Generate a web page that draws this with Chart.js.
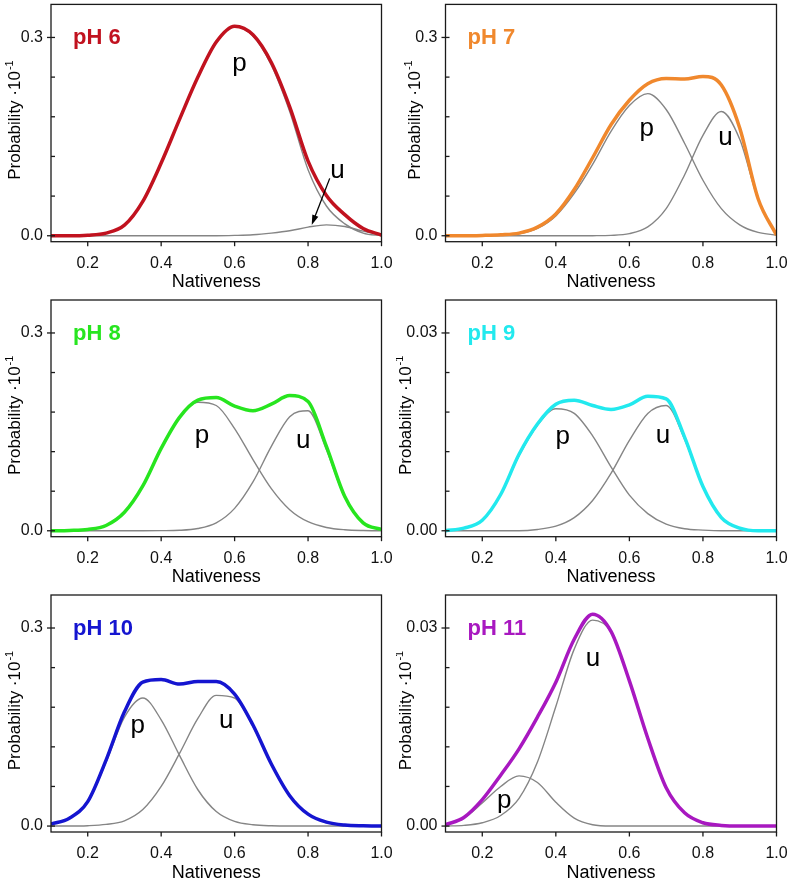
<!DOCTYPE html>
<html><head><meta charset="utf-8">
<script src="https://cdn.jsdelivr.net/npm/chart.js@4.4.1/dist/chart.umd.min.js"></script>
<style>
html,body{margin:0;padding:0;background:#fff;width:792px;height:882px;overflow:hidden;}
canvas{position:absolute;}
</style></head><body>
<canvas id="c0" width="396" height="292" style="left:0px;top:0px;width:396px;height:292px"></canvas>
<canvas id="c1" width="396" height="292" style="left:396px;top:0px;width:396px;height:292px"></canvas>
<canvas id="c2" width="396" height="292" style="left:0px;top:295px;width:396px;height:292px"></canvas>
<canvas id="c3" width="396" height="292" style="left:396px;top:295px;width:396px;height:292px"></canvas>
<canvas id="c4" width="396" height="292" style="left:0px;top:590px;width:396px;height:292px"></canvas>
<canvas id="c5" width="396" height="292" style="left:396px;top:590px;width:396px;height:292px"></canvas>
<script>
// ---------- data ----------
const nativeness = [0.10,0.15,0.20,0.25,0.30,0.35,0.40,0.45,0.50,0.55,0.60,0.65,0.70,0.75,0.80,0.85,0.90,0.95,1.00];
const xTickValues = [0.2,0.4,0.6,0.8,1.0];
const yTicksLarge = [0,0.06,0.12,0.18,0.24,0.30];
const yTicksSmall = [0,0.006,0.012,0.018,0.024,0.030];

const pH6_total = [0,0,0.0008,0.004,0.016,0.052,0.110,0.176,0.240,0.293,0.317,0.304,0.262,0.195,0.113,0.061,0.032,0.011,0.001];
const pH6_p     = [0,0,0.0008,0.004,0.016,0.052,0.110,0.176,0.240,0.293,0.316,0.302,0.258,0.188,0.100,0.045,0.018,0.004,0];
const pH6_u     = [0,0,0,0,0,0,0,0,0,0,0.0005,0.0015,0.004,0.0075,0.013,0.0165,0.014,0.007,0.001];

const pH7_total = [0,0,0.0005,0.0015,0.004,0.013,0.033,0.070,0.118,0.168,0.205,0.230,0.238,0.237,0.241,0.228,0.163,0.056,0.001];
const pH7_p     = [0,0,0.0003,0.001,0.003,0.011,0.030,0.064,0.108,0.158,0.197,0.215,0.191,0.140,0.084,0.041,0.0165,0.005,0.001];
const pH7_u     = [0,0,0,0,0,0,0,0,0.0001,0.0006,0.0033,0.0134,0.041,0.092,0.152,0.188,0.146,0.055,0.002];

const pH8_total = [0,0.0005,0.002,0.008,0.028,0.068,0.125,0.172,0.198,0.202,0.189,0.182,0.192,0.205,0.196,0.128,0.052,0.012,0.002];
const pH8_p     = [0,0.0005,0.002,0.008,0.028,0.068,0.125,0.171,0.195,0.190,0.155,0.108,0.064,0.032,0.0137,0.005,0.0015,0.0003,0];
const pH8_u     = [0,0,0,0,0,0,0.0002,0.0007,0.0034,0.012,0.034,0.074,0.128,0.173,0.182,0.123,0.050,0.012,0.002];

const pH9_total = [0,0.0004,0.0016,0.0055,0.0116,0.0162,0.0192,0.0198,0.0190,0.0184,0.0191,0.0204,0.0200,0.0142,0.0067,0.0020,0.0004,0,0];
const pH9_p     = [0,0.0004,0.0016,0.0055,0.0114,0.0160,0.0185,0.0178,0.0144,0.0097,0.0054,0.0026,0.0010,0.0003,0.0001,0,0,0,0];
const pH9_u     = [0,0,0,0,0,0.0002,0.0007,0.0020,0.0046,0.0087,0.0137,0.0178,0.0190,0.0139,0.0066,0.0020,0.0004,0.00005,0];

const pH10_total = [0.003,0.012,0.037,0.100,0.173,0.218,0.222,0.215,0.219,0.219,0.200,0.153,0.094,0.046,0.018,0.006,0.0015,0.0003,0];
const pH10_p     = [0.003,0.012,0.036,0.097,0.165,0.194,0.161,0.107,0.055,0.022,0.007,0.002,0.0004,0,0,0,0,0,0];
const pH10_u     = [0,0,0.0005,0.0025,0.008,0.025,0.060,0.110,0.163,0.198,0.194,0.151,0.094,0.046,0.018,0.0057,0.0014,0.0003,0];

const pH11_total = [0.0002,0.0013,0.0040,0.0077,0.0117,0.0165,0.0218,0.0283,0.0321,0.0295,0.0220,0.0133,0.0058,0.0020,0.0005,0.0001,0,0,0];
const pH11_p     = [0.0002,0.0012,0.0035,0.0060,0.0076,0.0066,0.0036,0.0012,0.0002,0,0,0,0,0,0,0,0,0,0];
const pH11_u     = [0,0.0001,0.0005,0.0016,0.0042,0.0097,0.0181,0.0268,0.0312,0.0294,0.0220,0.0133,0.0058,0.0020,0.0005,0.0001,0,0,0];

// ---------- presentation ----------
const FONT = '"Liberation Sans", Arial, Helvetica, sans-serif';
Chart.defaults.font.family = FONT;
const GRAY = '#858585';

const panels = [
  {id:'c0', name:'pH 6',  color:'#C1121F', total:pH6_total,  p:pH6_p,  u:pH6_u,  small:false, col:0, row:0, titleX:15.5,
   notes:[{t:'p',x:0.613,y:0.250},{t:'u',x:0.880,y:0.087}], arrow:{x0:0.859,y0:0.0868,x1:0.81,y1:0.0162}},
  {id:'c1', name:'pH 7',  color:'#F0882D', total:pH7_total,  p:pH7_p,  u:pH7_u,  small:false, col:1, row:0, titleX:19.3,
   notes:[{t:'p',x:0.647,y:0.151},{t:'u',x:0.861,y:0.137}]},
  {id:'c2', name:'pH 8',  color:'#27E51F', total:pH8_total,  p:pH8_p,  u:pH8_u,  small:false, col:0, row:1, titleX:15.5,
   notes:[{t:'p',x:0.511,y:0.133},{t:'u',x:0.787,y:0.126}]},
  {id:'c3', name:'pH 9',  color:'#22E9EE', total:pH9_total,  p:pH9_p,  u:pH9_u,  small:true,  col:1, row:1, titleX:10,
   notes:[{t:'p',x:0.419,y:0.0132},{t:'u',x:0.691,y:0.0133}]},
  {id:'c4', name:'pH 10', color:'#1515D0', total:pH10_total, p:pH10_p, u:pH10_u, small:false, col:0, row:2, titleX:15.8,
   notes:[{t:'p',x:0.336,y:0.141},{t:'u',x:0.577,y:0.149}]},
  {id:'c5', name:'pH 11', color:'#A818C0', total:pH11_total, p:pH11_p, u:pH11_u, small:true,  col:1, row:2, titleX:10,
   notes:[{t:'p',x:0.26,y:0.0028},{t:'u',x:0.501,y:0.0243}]}
];

const colGeom = [{left:51, right:381.5}, {left:49.5, right:380.5}];
const rowGeom = [{top:4.4, bottom:241.7}, {top:5, bottom:241.7}, {top:5, bottom:242}];
const CANVAS_W = 396, CANVAS_H = 292;

function pts(arr){ return arr.map((v,i)=>({x:nativeness[i], y:v})); }

function decoPlugin(P){
  return {
    id:'deco',
    afterDraw(chart){
      const {ctx, chartArea:a, scales:{x, y}} = chart;
      ctx.save();
      // p / u labels
      ctx.fillStyle = '#000';
      ctx.font = '26px ' + FONT;
      ctx.textAlign = 'center'; ctx.textBaseline = 'alphabetic';
      P.notes.forEach(n => ctx.fillText(n.t, x.getPixelForValue(n.x), y.getPixelForValue(n.y)));
      // arrow
      if (P.arrow){
        const x0 = x.getPixelForValue(P.arrow.x0), y0 = y.getPixelForValue(P.arrow.y0);
        const x1 = x.getPixelForValue(P.arrow.x1), y1 = y.getPixelForValue(P.arrow.y1);
        const ang = Math.atan2(y1-y0, x1-x0), L = 10, W = 3.2;
        ctx.strokeStyle = '#000'; ctx.lineWidth = 1.3;
        ctx.beginPath(); ctx.moveTo(x0,y0);
        ctx.lineTo(x1 - Math.cos(ang)*L*0.8, y1 - Math.sin(ang)*L*0.8); ctx.stroke();
        ctx.beginPath();
        ctx.moveTo(x1, y1);
        ctx.lineTo(x1 - Math.cos(ang)*L - Math.sin(ang)*W, y1 - Math.sin(ang)*L + Math.cos(ang)*W);
        ctx.lineTo(x1 - Math.cos(ang)*L + Math.sin(ang)*W, y1 - Math.sin(ang)*L - Math.cos(ang)*W);
        ctx.closePath(); ctx.fillStyle = '#000'; ctx.fill();
      }
      // panel name
      ctx.fillStyle = P.color;
      ctx.font = 'bold 22px ' + FONT;
      ctx.textAlign = 'left';
      ctx.fillText(P.name, a.left + 22, a.top + 40);
      // frame
      ctx.strokeStyle = '#1a1a1a'; ctx.lineWidth = 1.3;
      ctx.strokeRect(a.left, a.top, a.right - a.left, a.bottom - a.top);
      // y tick marks
      const yt = P.small ? yTicksSmall : yTicksLarge;
      yt.forEach((v,i) => {
        const py = y.getPixelForValue(v);
        const labelled = (i === 0 || i === yt.length-1);
        ctx.beginPath();
        ctx.moveTo(a.left - (labelled ? 4 : 0), py);
        ctx.lineTo(a.left + 4, py);
        ctx.stroke();
      });
      // x tick marks
      xTickValues.forEach(v => {
        const px = x.getPixelForValue(v);
        ctx.beginPath(); ctx.moveTo(px, a.bottom); ctx.lineTo(px, a.bottom + 4.5); ctx.stroke();
      });
      // x title
      ctx.fillStyle = '#000';
      ctx.font = '18px ' + FONT;
      ctx.textAlign = 'center';
      ctx.fillText('Nativeness', (a.left + a.right)/2, a.bottom + 45.5);
      // y title with superscript
      const main = 'Probability \u00B710', sup = '-1';
      ctx.font = '17px ' + FONT;
      const wm = ctx.measureText(main).width;
      ctx.font = '11px ' + FONT;
      const ws = ctx.measureText(sup).width;
      const total = wm + ws + 1;
      ctx.translate(P.titleX, (a.top + a.bottom)/2 - 3);
      ctx.rotate(-Math.PI/2);
      ctx.textAlign = 'left'; ctx.textBaseline = 'middle';
      ctx.font = '17px ' + FONT;
      ctx.fillText(main, -total/2, 0);
      ctx.font = '11px ' + FONT;
      ctx.fillText(sup, -total/2 + wm + 1, -6);
      ctx.restore();
    }
  };
}

panels.forEach(P => {
  const cg = colGeom[P.col], rg = rowGeom[P.row];
  const ymin = P.small ? -0.0009 : -0.009;
  const ymax = P.small ? 0.035 : 0.35;
  const yLabelTicks = P.small ? [0, 0.03] : [0, 0.3];
  new Chart(document.getElementById(P.id), {
    type:'line',
    data:{ datasets:[
      {data:pts(P.total), borderColor:P.color, borderWidth:3.5, pointRadius:0, cubicInterpolationMode:'monotone', order:0, fill:false},
      {data:pts(P.p), borderColor:GRAY, borderWidth:1.4, pointRadius:0, cubicInterpolationMode:'monotone', order:1, fill:false},
      {data:pts(P.u), borderColor:GRAY, borderWidth:1.4, pointRadius:0, cubicInterpolationMode:'monotone', order:1, fill:false}
    ]},
    options:{
      responsive:false, animation:false, devicePixelRatio:1,
      layout:{padding:{left:0, top:rg.top, right:CANVAS_W - cg.right, bottom:0}},
      plugins:{legend:{display:false}, tooltip:{enabled:false}},
      scales:{
        x:{type:'linear', min:0.1, max:1.0,
           afterBuildTicks:s => { s.ticks = xTickValues.map(v=>({value:v})); },
           afterFit:s => { s.height = CANVAS_H - rg.bottom; s.paddingLeft = 0; s.paddingRight = 0; },
           grid:{display:false, drawTicks:false}, border:{display:false},
           ticks:{font:{size:16, family:FONT}, color:'#111', padding:12, maxRotation:0, minRotation:0, autoSkip:false,
                  callback:v => Number(v).toFixed(1)}},
        y:{type:'linear', min:ymin, max:ymax,
           afterBuildTicks:s => { s.ticks = yLabelTicks.map(v=>({value:v})); },
           afterFit:s => { s.width = cg.left; s.paddingTop = 0; s.paddingBottom = 0; },
           grid:{display:false, drawTicks:false}, border:{display:false},
           ticks:{font:{size:16, family:FONT}, color:'#111', padding:8, autoSkip:false,
                  callback:v => Number(v).toFixed(P.small ? 2 : 1)}}
      }
    },
    plugins:[decoPlugin(P)]
  });
});
</script>
</body></html>
